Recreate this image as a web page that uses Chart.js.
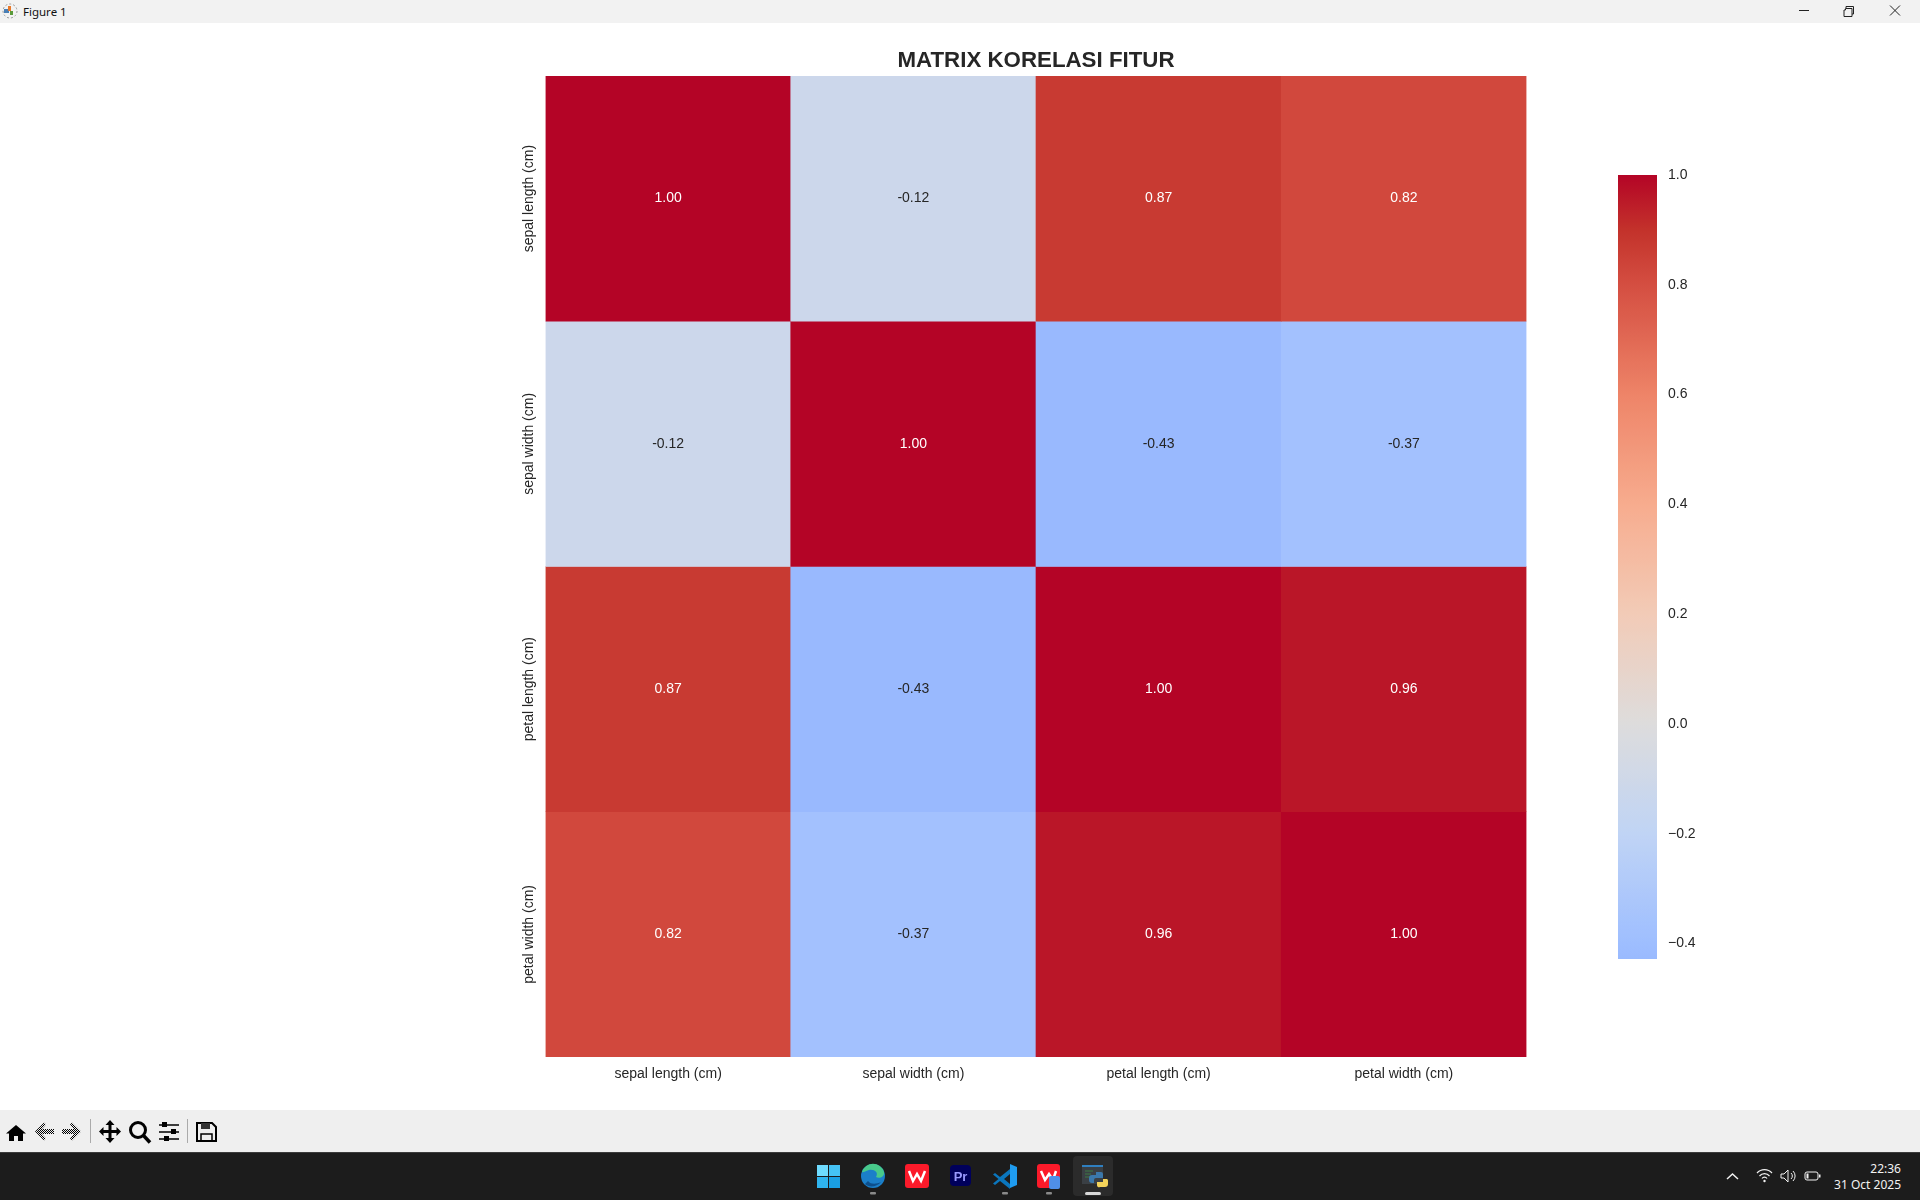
<!DOCTYPE html>
<html lang="en">
  <head>
    <meta charset="UTF-8" />
    <title>Figure 1</title>
    <style>
      html, body { margin: 0; padding: 0; width: 1920px; height: 1200px; overflow: hidden; background: #fff; }
      body { position: relative; font-family: "Noto Sans", "Open Sans", sans-serif; }
      canvas { position: absolute; display: block; }
      svg { position: absolute; left: 0; top: 0; }
      #titlebar { position: absolute; left: 0; top: 0; width: 1920px; height: 23px; background: #f2f2f2; }
      #titlebar span { position: absolute; left: 23px; top: 3px; font-size: 11.5px; line-height: 17px; color: #111; }
      #toolbar { position: absolute; left: 0; top: 1110px; width: 1920px; height: 42px; background: #efefef; }
      #taskbar { position: absolute; left: 0; top: 1152px; width: 1920px; height: 48px; background: #1c1c1c; border-top: 1px solid #3b3b3b; box-sizing: border-box; }
      .clock { position: absolute; right: 19px; color: #f2f2f2; font-size: 12px; line-height: 16px; white-space: nowrap; }
    </style>
  </head>
  <body>
    <div id="titlebar"><span>Figure 1</span></div>
    <div id="toolbar"></div>
    <div id="taskbar">
      <div class="clock" style="top: 8px">22:36</div>
      <div class="clock" style="top: 24px">31 Oct 2025</div>
    </div>

    <canvas id="heatmap" width="1920" height="1087" style="left: 0; top: 23px"></canvas>
    <canvas id="colorbar" width="100" height="824" style="left: 1618px; top: 155px"></canvas>

    <!-- window chrome icons -->
    <svg width="1920" height="1200" viewBox="0 0 1920 1200">
      <defs>
        <pattern id="dither" width="2" height="2" patternUnits="userSpaceOnUse">
          <rect width="1" height="1" fill="#000"/><rect x="1" y="1" width="1" height="1" fill="#000"/>
        </pattern>
      </defs>
      <!-- figure icon -->
      <circle cx="10" cy="11" r="7" fill="none" stroke="#999" stroke-width="1" stroke-dasharray="2 2"/>
      <rect x="4" y="9" width="5" height="4" fill="#4a7fb5"/>
      <rect x="8" y="6" width="3" height="5" fill="#e8792b"/>
      <rect x="10" y="11" width="3" height="4" fill="#5a9a3a"/>
      <!-- window buttons -->
      <path d="M1799 10.5h10" stroke="#222" stroke-width="1"/>
      <path d="M1845.5 8.5h6.5v8h-8v-6.5h1.500zM1846 8v-1.500h7.500v7.500h-1.500" fill="none" stroke="#222" stroke-width="1"/>
      <path d="M1890 5.500l10 10M1900 5.500l-10 10" stroke="#222" stroke-width="1"/>
      <!-- toolbar -->
      <path d="M16 1125l10 8.500h-3v7.500h-5v-5h-4v5h-5v-7.500h-3z" fill="#000"/>
      <path d="M35 1131.500l9-9 2 2-4 4.500h12v5h-12l4 4.500-2 2z" fill="url(#dither)"/>
      <path d="M81 1131.500l-9-9-2 2 4 4.500h-12v5h12l-4 4.500 2 2z" fill="url(#dither)"/>
      <path d="M90.500 1119v24M187.500 1119v24" stroke="#aaa" stroke-width="1"/>
      <path d="M110 1120l4.500 5h-3v5h5v-3l4.500 4.500-4.500 4.500v-3h-5v5h3l-4.500 5-4.500-5h3v-5h-5v3l-4.500-4.500 4.500-4.500v3h5v-5h-3z" fill="#000"/>
      <circle cx="138" cy="1130" r="7.500" fill="none" stroke="#000" stroke-width="3"/>
      <path d="M143.500 1135.500l6.500 7" stroke="#000" stroke-width="3.500"/>
      <path d="M159 1125h20M159 1132h20M159 1139h20" stroke="#000" stroke-width="1.500"/>
      <rect x="162" y="1122" width="5" height="5" fill="#000"/><rect x="171" y="1129" width="5" height="5" fill="#000"/><rect x="164" y="1136" width="5" height="5" fill="#000"/>
      <path d="M197 1123h15l4 4v14h-19z" fill="none" stroke="#000" stroke-width="2"/>
      <rect x="201" y="1123" width="9" height="6" fill="#333"/>
      <rect x="201" y="1134" width="11" height="7" fill="none" stroke="#000" stroke-width="1.500"/>
      <!-- taskbar -->
      <rect x="817" y="1165" width="11" height="11" fill="#6fdcff"/><rect x="829" y="1165" width="11" height="11" fill="#45c3f5"/>
      <rect x="817" y="1177" width="11" height="11" fill="#2fb4ef"/><rect x="829" y="1177" width="11" height="11" fill="#1a9fe3"/>
      <circle cx="873" cy="1176" r="12" fill="#1b7fc9"/>
      <path d="M862 1172a11.500 11.500 0 0 1 22 0c1 5-5 7-8 5 3-5-2-8-7-7-4 1-6 3-7 2z" fill="#48c98a"/>
      <path d="M868 1181c3 4 9 3 13 1-4 5-12 6-16 2z" fill="#0d4f8c"/>
      <rect x="905" y="1164" width="24" height="24" rx="3" fill="#fb1a2a"/>
      <path d="M909 1171l4 10 4-7 4 7 4-10" fill="none" stroke="#fff" stroke-width="2.500"/>
      <rect x="950" y="1165" width="21" height="21" rx="4" fill="#00005b"/>
      <text x="960.500" y="1181" fill="#9999ff" font-family="Liberation Sans" font-size="13" font-weight="bold" text-anchor="middle">Pr</text>
      <path d="M1010 1164l7 3v18l-7 3z" fill="#1f9cf0"/>
      <path d="M1010 1169l-10 8-5-4-2 1.500 5.500 4.500-5.500 4.500 2 1.500 5-4 10 8v-5l-6-5 6-5z" fill="#0b76bd"/>
      <rect x="1037" y="1164" width="23" height="24" rx="3" fill="#fb1a2a"/>
      <path d="M1041 1171l4 9 4-6 4 6 3-9" fill="none" stroke="#fff" stroke-width="2.500"/>
      <rect x="1049" y="1176" width="11" height="13" rx="2" fill="#4f8fe8"/>
      <rect x="1073" y="1156" width="40" height="40" rx="4" fill="#2b2b2b"/>
      <rect x="1082" y="1165" width="21" height="19" fill="#3a3f44"/>
      <rect x="1082" y="1165" width="21" height="2" fill="#2f7fc0"/>
      <path d="M1085 1171h8M1085 1174h6M1085 1177h5" stroke="#3d7a45" stroke-width="1"/>
      <path d="M1096 1172h5a2 2 0 0 1 2 2v4h-7a2 2 0 0 0-2 2v3h-2a3 3 0 0 1-3-3v-2a3 3 0 0 1 3-3h4z" fill="#3b78ab"/>
      <path d="M1103 1179h4a2 2 0 0 1 1 2v3a3 3 0 0 1-3 3h-5a2 2 0 0 1-3-2v-3h6z" fill="#f4d35a"/>
      <rect x="1085" y="1192" width="16" height="3" rx="1.500" fill="#d8d8d8"/>
      <rect x="870" y="1192" width="6" height="2.500" rx="1" fill="#8a8a8a"/>
      <rect x="1002" y="1192" width="6" height="2.500" rx="1" fill="#8a8a8a"/>
      <rect x="1046" y="1192" width="6" height="2.500" rx="1" fill="#8a8a8a"/>
      <!-- tray -->
      <path d="M1727 1179l5.500-5 5.500 5" fill="none" stroke="#f2f2f2" stroke-width="1.500"/>
      <path d="M1757 1173a10 10 0 0 1 15 0M1759.500 1176a6.500 6.500 0 0 1 10 0M1762 1178.500a3 3 0 0 1 5 0" fill="none" stroke="#f2f2f2" stroke-width="1.200"/>
      <circle cx="1764.500" cy="1181" r="1.200" fill="#f2f2f2"/>
      <path d="M1781 1174h3l4-4v12l-4-4h-3zM1791 1173a4 4 0 0 1 0 6M1793 1171a7 7 0 0 1 0 10" fill="none" stroke="#f2f2f2" stroke-width="1"/>
      <rect x="1805" y="1172" width="13" height="8" rx="2" fill="none" stroke="#f2f2f2" stroke-width="1"/>
      <rect x="1819" y="1174.500" width="1.500" height="3" fill="#f2f2f2"/>
      <rect x="1806.500" y="1173.500" width="2" height="5" fill="#f2f2f2"/>
    </svg>

    <script src="https://cdn.jsdelivr.net/npm/chart.js@4/dist/chart.umd.min.js"></script>
    <script>
      const features = ["sepal length (cm)", "sepal width (cm)", "petal length (cm)", "petal width (cm)"];
      const sepalLengthRow = [1.00, -0.12, 0.87, 0.82];
      const sepalWidthRow = [-0.12, 1.00, -0.43, -0.37];
      const petalLengthRow = [0.87, -0.43, 1.00, 0.96];
      const petalWidthRow = [0.82, -0.37, 0.96, 1.00];
      const rows = [sepalLengthRow, sepalWidthRow, petalLengthRow, petalWidthRow];

      const colorbarTicks = [-0.4, -0.2, 0.0, 0.2, 0.4, 0.6, 0.8, 1.0];
      const colorbarMin = -0.428;
      const colorbarMax = 1.00;

      // coolwarm stops
      const coolwarmAt = [0, 0.1, 0.2, 0.3, 0.4, 0.5, 0.6, 0.7, 0.8, 0.9, 0.95, 1];
      const coolwarm = ["#3b4cc0", "#5977e3", "#7b9ff9", "#9ebeff", "#c0d4f5", "#dddcdc", "#f2cbb7", "#f7ac8e", "#ee8468", "#d44e41", "#c3322b", "#b40426"];

      function hexToRgb(h) {
        return [1, 3, 5].map(i => parseInt(h.slice(i, i + 2), 16));
      }

      // value -1..1 centred on 0
      function rgbFor(value) {
        const t = Math.min(1, Math.max(0, (value + 1) / 2));
        let i = 0;
        while (i < coolwarmAt.length - 2 && t > coolwarmAt[i + 1]) i++;
        const f = (t - coolwarmAt[i]) / (coolwarmAt[i + 1] - coolwarmAt[i]);
        const a = hexToRgb(coolwarm[i]), b = hexToRgb(coolwarm[i + 1]);
        return a.map((c, k) => Math.round(c + (b[k] - c) * f));
      }

      function colorFor(value) {
        return `rgb(${rgbFor(value).join(",")})`;
      }

      const fontFamily = '"Liberation Sans", Arial, sans-serif';
      Chart.defaults.font.family = fontFamily;
      Chart.defaults.color = "#262626";
      Chart.defaults.animation = false;

      // writes the value in the middle of each cell
      const cellLabels = {
        id: "cellLabels",
        afterDatasetsDraw(chart) {
          const { ctx } = chart;
          ctx.save();
          ctx.font = `14px ${fontFamily}`;
          ctx.textAlign = "center";
          ctx.textBaseline = "middle";
          rows.forEach((row, r) => {
            const bars = chart.getDatasetMeta(r).data;
            row.forEach((value, c) => {
              const center = bars[c].getCenterPoint();
              const [red, green, blue] = rgbFor(value);
              const lum = 0.2126 * red + 0.7152 * green + 0.0722 * blue;
              ctx.fillStyle = lum < 150 ? "#ffffff" : "#262626";
              ctx.fillText(value.toFixed(2), center.x, center.y);
            });
          });
          ctx.restore();
        }
      };

      new Chart(document.getElementById("heatmap"), {
        type: "bar",
        data: {
          labels: features,
          datasets: rows.map((row, r) => ({
            label: features[r],
            data: row.map(() => [r, r + 1]),
            backgroundColor: row.map(colorFor),
            borderWidth: 0,
            barPercentage: 1,
            categoryPercentage: 1,
            grouped: false
          }))
        },
        plugins: [cellLabels],
        options: {
          responsive: false,
          layout: { padding: { left: 505.5, right: 393.5, top: 0, bottom: 13 } },
          plugins: {
            legend: { display: false },
            tooltip: { enabled: false },
            title: {
              display: true,
              text: "MATRIX KORELASI FITUR",
              fullSize: false,
              color: "#262626",
              font: { size: 22.3, weight: "bold", family: fontFamily },
              padding: { top: 24.4, bottom: 1.840 }
            }
          },
          scales: {
            x: {
              grid: { display: false, drawTicks: false },
              border: { display: false },
              ticks: { font: { size: 14 }, color: "#262626", padding: 9, maxRotation: 0, autoSkip: false },
              afterFit(scale) { scale.height = 40; }
            },
            y: {
              reverse: true,
              min: 0,
              max: rows.length,
              grid: { display: false, drawTicks: false },
              border: { display: false },
              afterBuildTicks(scale) {
                scale.ticks = features.map((f, i) => ({ value: i + 0.5 }));
              },
              ticks: {
                font: { size: 14 },
                color: "#262626",
                minRotation: 90,
                maxRotation: 90,
                crossAlign: "center",
                padding: -37,
                callback: value => features[Math.floor(value)]
              },
              afterFit(scale) { scale.width = 40; }
            }
          }
        }
      });

      new Chart(document.getElementById("colorbar"), {
        type: "bar",
        data: {
          labels: ["corr"],
          datasets: [{
            data: [[colorbarMin, colorbarMax]],
            borderWidth: 0,
            barPercentage: 1,
            categoryPercentage: 1,
            backgroundColor(context) {
              const area = context.chart.chartArea;
              if (!area) return coolwarm[5];
              const gradient = context.chart.ctx.createLinearGradient(0, area.bottom, 0, area.top);
              const span = colorbarMax - colorbarMin;
              // one colour stop per 1% of the bar
              for (let i = 0; i <= 100; i++) {
                gradient.addColorStop(i / 100, colorFor(colorbarMin + span * i / 100));
              }
              return gradient;
            }
          }]
        },
        options: {
          responsive: false,
          layout: { padding: { left: 0, right: 0, top: 20, bottom: 20 } },
          plugins: { legend: { display: false }, tooltip: { enabled: false } },
          scales: {
            x: { display: false },
            y: {
              position: "right",
              min: colorbarMin,
              max: colorbarMax,
              grid: { display: false, drawTicks: false },
              border: { display: false },
              afterBuildTicks(scale) {
                scale.ticks = colorbarTicks.map(value => ({ value }));
              },
              ticks: {
                font: { size: 14 },
                color: "#262626",
                padding: 11,
                callback: value => value.toFixed(1).replace("-", "\u2212")
              },
              afterFit(scale) { scale.width = 61; }
            }
          }
        }
      });
    </script>
  </body>
</html>
